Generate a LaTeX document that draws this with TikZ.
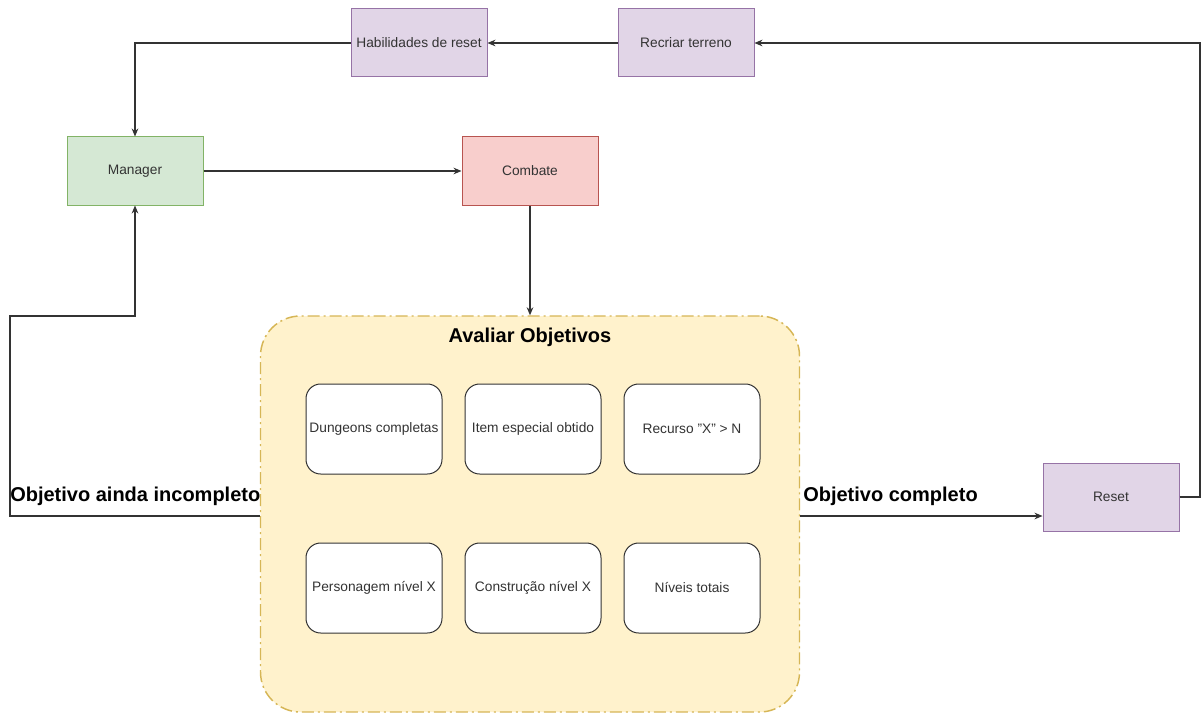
\documentclass[tikz,border=0pt]{standalone}
\usepackage{fontspec}
\setmainfont{Liberation Sans}
\usetikzlibrary{arrows.meta}
\definecolor{txt}{HTML}{333333}
\definecolor{ln}{HTML}{333333}
\definecolor{gfill}{HTML}{D5E8D4}\definecolor{gline}{HTML}{82B366}
\definecolor{rfill}{HTML}{F8CECC}\definecolor{rline}{HTML}{B85450}
\definecolor{pfill}{HTML}{E1D5E7}\definecolor{pline}{HTML}{9673A6}
\definecolor{yfill}{HTML}{FFF2CC}\definecolor{yline}{HTML}{D6B656}
\tikzset{
  blk/.style={draw, line width=0.75pt, minimum width=102pt, minimum height=51pt,
    inner sep=0pt, text=txt, font=\fontsize{10.3}{12}\selectfont},
  greenbox/.style={blk, fill=gfill, draw=gline},
  redbox/.style={blk, fill=rfill, draw=rline},
  purplebox/.style={blk, fill=pfill, draw=pline},
  goalbox/.style={draw=ln, fill=white, line width=0.75pt, rounded corners=11pt,
    minimum width=102pt, minimum height=67.5pt, inner sep=0pt, text=txt,
    font=\fontsize{10.3}{12}\selectfont},
  group/.style={draw=yline, fill=yfill, line width=1.1pt, rounded corners=30pt,
    dash pattern=on 9pt off 3pt on 1.5pt off 3pt,
    minimum width=404.25pt, minimum height=297pt, inner sep=0pt},
  bigtxt/.style={font=\bfseries\fontsize{15}{17}\selectfont, text=black, inner sep=0pt},
  arr/.style={draw=ln, line width=0.8pt, -{Stealth[length=6pt,width=5pt]}},
}
\begin{document}
\begin{tikzpicture}[x=0.75pt, y=-0.75pt]
\useasboundingbox (0,0) rectangle (1202,713);

% evaluation group and its criteria
\node[group] (cont) at (530,514) {};
\node[bigtxt] (title) at (530,337) {Avaliar Objetivos};
\node[goalbox] (g1) at (374,429) {Dungeons completas};
\node[goalbox] (g2) at (533,429) {Item especial obtido};
\node[goalbox] (g3) at (692,429) {Recurso "X" > N};
\node[goalbox] (g4) at (374,588) {Personagem nível X};
\node[goalbox] (g5) at (533,588) {Construção nível X};
\node[goalbox] (g6) at (692,588) {Níveis totais};

% process blocks
\node[purplebox] (hab) at (419,43) {Habilidades de reset};
\node[purplebox] (rec) at (686,43) {Recriar terreno};
\node[greenbox] (man) at (135,171) {Manager};
\node[redbox] (com) at (530,171) {Combate};
\node[purplebox] (reset) at (1111,497) {Reset};

% bend points of the loops
\coordinate (lb) at (10,516);
\coordinate (lt) at (10,316);
\coordinate (rr) at (1200,497);

% connectors
\draw[arr] (hab.west) -| (man.north);
\draw[arr] (rec.west) -- (hab.east);
\draw[arr] (man.east) -- (com.west);
\draw[arr] (com.south) -- (cont.north);
\draw[arr] (cont.east |- lb) -- (reset.west |- lb);
\draw[arr] (cont.west |- lb) -- (lb) -- (lt) -| (man.south);
\draw[arr] (reset.east) -- (rr) |- (rec.east);

% edge labels
\node[bigtxt, anchor=west] (lok) at (803,496) {Objetivo completo};
\node[bigtxt, anchor=west] (lno) at (10,496) {Objetivo ainda incompleto};
\end{tikzpicture}
\end{document}
